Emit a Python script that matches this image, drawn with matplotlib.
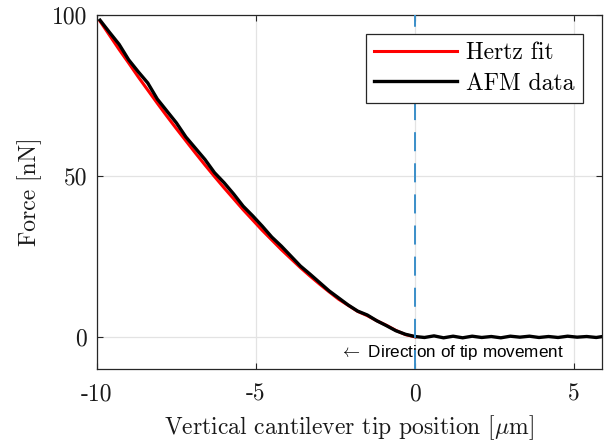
import matplotlib
matplotlib.use('Agg')
from matplotlib import pyplot as plt
from matplotlib.ticker import FuncFormatter

# Data.
x_fit=[-9.9,-9.6,-9.3,-9.0,-8.7,-8.4,-8.1,-7.8,-7.5,-7.2,-6.9,-6.6,-6.3,-6.0,
       -5.7,-5.4,-5.1,-4.8,-4.5,-4.2,-3.9,-3.6,-3.3,-3.0,-2.7,-2.4,-2.1,-1.8,
       -1.5,-1.2,-0.9,-0.6,-0.3,0.0]
f_fit=[98.1,93.7,89.3,85.1,80.8,76.7,72.6,68.6,64.7,60.9,57.1,53.4,49.8,46.3,
       42.9,39.5,36.3,33.1,30.1,27.1,24.3,21.5,18.9,16.4,14.0,11.7,9.8,7.9,
       6.6,5.0,3.6,2.0,0.7,0.0]
x_afm=[-9.9,-9.6,-9.3,-9.0,-8.7,-8.4,-8.1,-7.8,-7.5,-7.2,-6.9,-6.6,-6.3,-6.0,
       -5.7,-5.4,-5.1,-4.8,-4.5,-4.2,-3.9,-3.6,-3.3,-3.0,-2.7,-2.4,-2.1,-1.8,
       -1.5,-1.2,-0.9,-0.6,-0.3,0.0,0.3,0.6,0.9,1.2,1.5,1.8,2.1,2.4,2.7,3.0,
       3.3,3.6,3.9,4.2,4.5,4.8,5.1,5.4,5.7,5.9]
f_afm=[98.4,94.6,90.9,86.1,82.4,78.9,73.9,70.2,66.5,62.1,58.6,55.1,51.0,47.9,
       44.4,40.6,37.6,34.4,31.0,28.2,25.1,22.0,19.5,16.9,14.3,12.1,9.9,8.0,
       6.8,5.0,3.5,1.9,0.8,0.1,-0.2,0.3,-0.3,0.2,-0.3,0.2,-0.2,0.1,-0.3,0.2,
       -0.1,0.2,-0.2,0.1,-0.2,0.2,-0.1,0.1,-0.2,0.1]
xticks=[-10,-5,0,5]
yticks=[0,50,100]

# Set fonts.
plt.rcParams['font.family']='serif'
plt.rcParams['font.serif']=['cmr10']
plt.rcParams['mathtext.fontset']='cm'
plt.rcParams['axes.unicode_minus']=False
plt.rcParams['axes.formatter.use_mathtext']=False

axcol='#262626'
txtcol='#1a1a1a'
fs=17
fig=plt.figure(figsize=(6.13,4.43),dpi=100)
ax=fig.add_axes([0.158,0.167,0.824,0.799])

# Grid and contact line.
ax.grid(True,color='#e3e3e3',linewidth=0.9)
ax.set_axisbelow(True)
ax.axvline(0,color='#3b8fc9',linewidth=1.4,linestyle=(0,(9.8,6.2)),zorder=5)

# Plot curves.
ax.plot(x_fit,f_fit,color='#ff0000',linewidth=2.2,label='Hertz fit',zorder=3)
ax.plot(x_afm,f_afm,color='black',linewidth=2.4,label='AFM data',zorder=4)

# Annotation.
ax.text(-2.35,-5,'$\\leftarrow$ Direction of tip movement',
        family=['Liberation Sans','DejaVu Sans'],
        fontsize=12.3,ha='left',va='center',zorder=4.5)

# Axes settings.
ax.set_xlim(-10,5.88)
ax.set_ylim(-10,100)
ax.set_xticks(xticks)
ax.set_yticks(yticks)
ax.xaxis.set_major_formatter(FuncFormatter(lambda v,p:'%d'%v))
ax.yaxis.set_major_formatter(FuncFormatter(lambda v,p:'%d'%v))
ax.tick_params(direction='in',top=True,right=True,length=4,width=0.8,
               colors=axcol,labelcolor=txtcol,labelsize=fs,pad=7)
ax.tick_params(axis='x',pad=10)
for sp in ax.spines.values():
  sp.set_color(axcol)
  sp.set_linewidth(0.9)
ax.set_xlabel('Vertical cantilever tip position [$\\mu$m]',fontsize=fs,color=txtcol,labelpad=6)
ax.set_ylabel('Force [nN]',fontsize=fs,color=txtcol,labelpad=7)

# Legend.
leg=ax.legend(loc='upper right',fontsize=fs,handlelength=3.5,fancybox=False,
              framealpha=1,edgecolor=axcol,borderaxespad=0.8,handletextpad=0.4,
              labelspacing=0.35,borderpad=0.35)
leg.get_frame().set_linewidth(0.9)
leg.set_zorder(6)

fig.savefig('out.png',dpi=100)
plt.close(fig)
